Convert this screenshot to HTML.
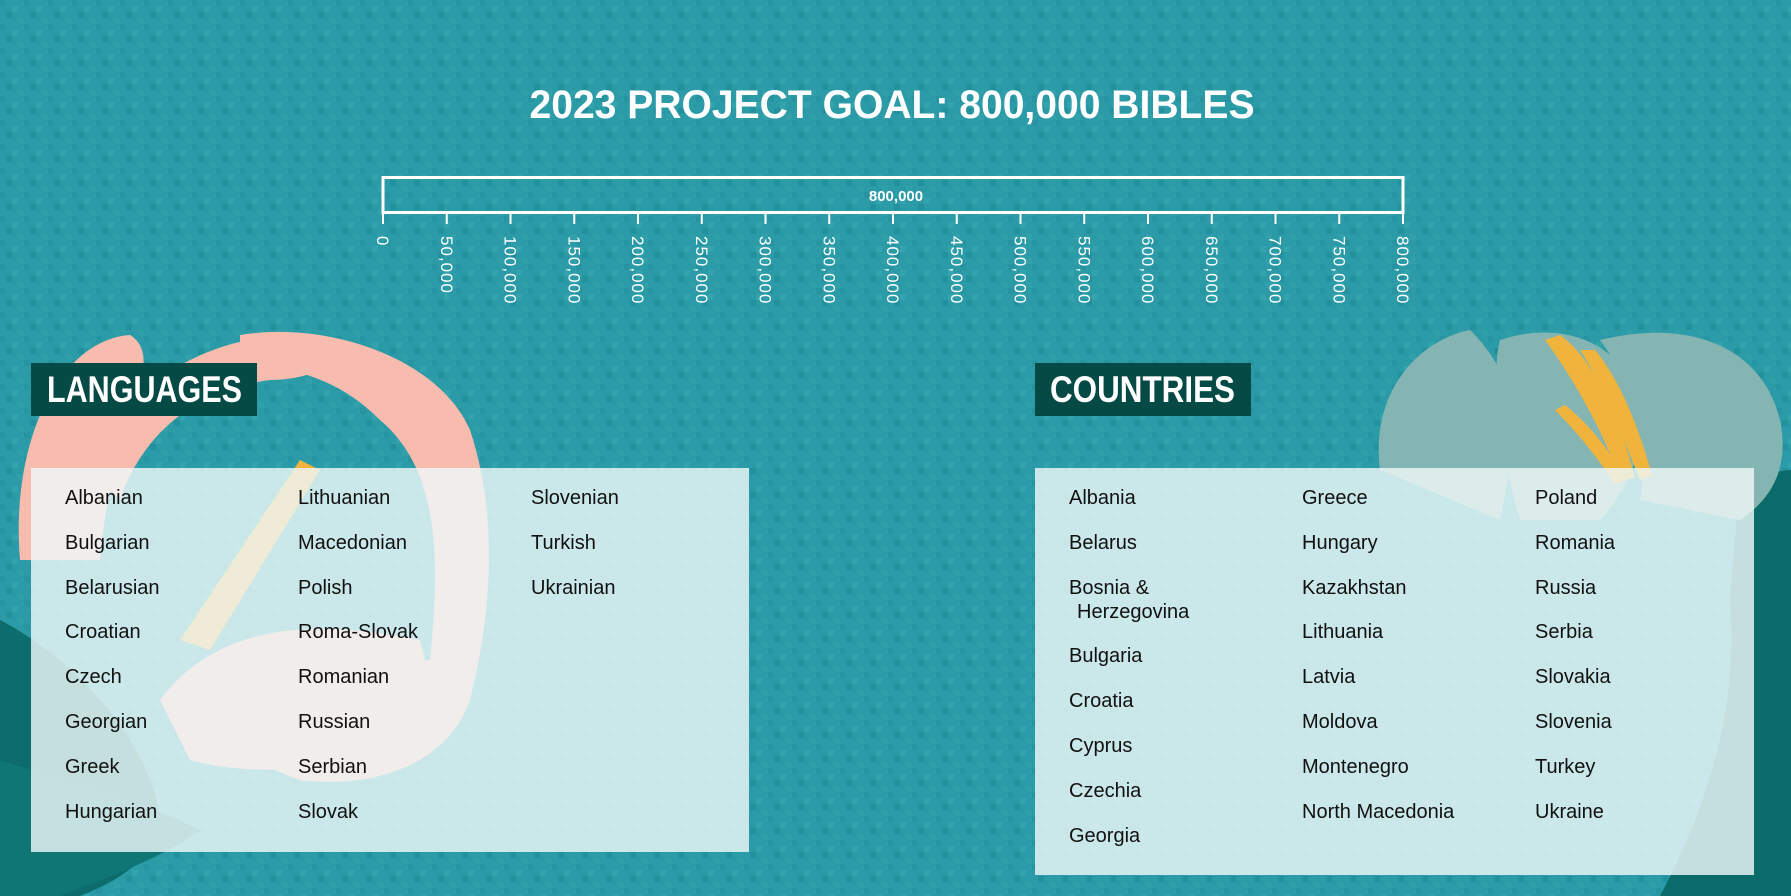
<!DOCTYPE html>
<html><head><meta charset="utf-8"><style>
html,body{margin:0;padding:0;width:1791px;height:896px;overflow:hidden;background:#2b9ba7}
svg{display:block}
text{font-family:"Liberation Sans",sans-serif}
</style></head><body>
<svg width="1791" height="896" viewBox="0 0 1791 896" xmlns="http://www.w3.org/2000/svg">
<defs>
<pattern id="noise" width="24" height="24" patternUnits="userSpaceOnUse">
<rect width="24" height="24" fill="#2b9ba7"/>
<rect x="0" y="0" width="6" height="6" fill="#2794a1"/>
<rect x="12" y="6" width="6" height="6" fill="#33a3ae"/>
<rect x="6" y="12" width="6" height="6" fill="#23909d"/>
<rect x="18" y="18" width="6" height="6" fill="#31a0ab"/>
</pattern>
</defs>
<rect width="1791" height="896" fill="url(#noise)"/>

<!-- left flower -->
<g>
<path d="M0 896 L0 620 C40 640 120 700 150 780 C180 850 120 880 80 896 Z" fill="#0d6d6c"/>
<path d="M20 560 C10 440 60 340 130 335 C170 360 110 430 100 560 Z" fill="#f7bcad"/>
<path d="M90 470 C120 380 220 330 310 335 C360 345 330 380 270 380 C190 390 140 440 120 500 Z" fill="#f7bcad"/>
<path d="M240 335 C330 320 440 360 470 430 C500 520 490 620 470 700 C450 760 380 790 300 780 C240 760 210 720 220 680 L430 660 C440 560 440 470 380 420 C340 380 300 370 240 360 Z" fill="#f7bcad"/>
<path d="M160 700 C220 620 320 620 420 640 L440 720 C380 770 260 780 190 760 Z" fill="#f7bcad"/>
<path d="M180 640 L300 460 L320 470 L210 650 Z" fill="#f3b33f"/>
<path d="M0 896 L0 760 C60 780 140 800 200 830 C160 860 100 880 60 896 Z" fill="#0f7674"/>
</g>

<!-- right flower -->
<g>
<path d="M1740 480 C1780 470 1791 470 1791 470 L1791 896 L1660 896 C1700 820 1740 720 1730 600 Z" fill="#0b6b6a"/>
<path d="M1380 470 C1370 390 1420 340 1470 330 C1520 380 1520 430 1500 520 Z" fill="#85b5b2"/>
<path d="M1500 340 C1560 320 1620 340 1640 400 C1650 450 1620 500 1600 520 L1520 520 C1500 450 1490 380 1500 340 Z" fill="#85b5b2"/>
<path d="M1600 340 C1680 320 1760 340 1780 420 C1790 470 1770 500 1740 520 L1640 500 C1650 440 1630 380 1600 340 Z" fill="#85b5b2"/>
<path d="M1545 340 C1560 360 1600 420 1620 480 L1635 478 C1620 420 1595 360 1560 335 Z" fill="#f0b43c"/>
<path d="M1580 350 C1600 380 1620 430 1640 480 L1652 476 C1640 430 1620 380 1595 350 Z" fill="#f0b43c"/>
<path d="M1555 410 C1575 430 1600 460 1615 485 L1625 480 C1610 450 1590 425 1565 405 Z" fill="#f0b43c"/>
</g>

<!-- title -->
<text x="892" y="118" text-anchor="middle" font-size="40" font-weight="bold" fill="#fff" textLength="725" lengthAdjust="spacingAndGlyphs">2023 PROJECT GOAL: 800,000 BIBLES</text>

<!-- bar -->
<rect x="383" y="177.5" width="1020" height="35" fill="none" stroke="#fff" stroke-width="3"/>
<text x="896" y="201" text-anchor="middle" font-size="15" font-weight="bold" fill="#fff">800,000</text>
<g stroke="#fff" stroke-width="2">
<line x1="383" y1="213" x2="383" y2="224"/><line x1="446.75" y1="213" x2="446.75" y2="224"/><line x1="510.5" y1="213" x2="510.5" y2="224"/><line x1="574.25" y1="213" x2="574.25" y2="224"/><line x1="638" y1="213" x2="638" y2="224"/><line x1="701.75" y1="213" x2="701.75" y2="224"/><line x1="765.5" y1="213" x2="765.5" y2="224"/><line x1="829.25" y1="213" x2="829.25" y2="224"/><line x1="893" y1="213" x2="893" y2="224"/><line x1="956.75" y1="213" x2="956.75" y2="224"/><line x1="1020.5" y1="213" x2="1020.5" y2="224"/><line x1="1084.25" y1="213" x2="1084.25" y2="224"/><line x1="1148" y1="213" x2="1148" y2="224"/><line x1="1211.75" y1="213" x2="1211.75" y2="224"/><line x1="1275.5" y1="213" x2="1275.5" y2="224"/><line x1="1339.25" y1="213" x2="1339.25" y2="224"/><line x1="1403" y1="213" x2="1403" y2="224"/>
</g>
<g font-size="17" fill="#fff" letter-spacing="1">
<text transform="translate(377,236) rotate(90)">0</text>
<text transform="translate(440.75,236) rotate(90)">50,000</text>
<text transform="translate(504.5,236) rotate(90)">100,000</text>
<text transform="translate(568.25,236) rotate(90)">150,000</text>
<text transform="translate(632,236) rotate(90)">200,000</text>
<text transform="translate(695.75,236) rotate(90)">250,000</text>
<text transform="translate(759.5,236) rotate(90)">300,000</text>
<text transform="translate(823.25,236) rotate(90)">350,000</text>
<text transform="translate(887,236) rotate(90)">400,000</text>
<text transform="translate(950.75,236) rotate(90)">450,000</text>
<text transform="translate(1014.5,236) rotate(90)">500,000</text>
<text transform="translate(1078.25,236) rotate(90)">550,000</text>
<text transform="translate(1142,236) rotate(90)">600,000</text>
<text transform="translate(1205.75,236) rotate(90)">650,000</text>
<text transform="translate(1269.5,236) rotate(90)">700,000</text>
<text transform="translate(1333.25,236) rotate(90)">750,000</text>
<text transform="translate(1397,236) rotate(90)">800,000</text>
</g>

<!-- headers -->
<rect x="31" y="363" width="226" height="53" fill="#054a45"/>
<text x="47" y="402" font-size="37" font-weight="bold" fill="#fff" textLength="195" lengthAdjust="spacingAndGlyphs">LANGUAGES</text>
<rect x="1035" y="363" width="216" height="53" fill="#054a45"/>
<text x="1050" y="402" font-size="37" font-weight="bold" fill="#fff" textLength="185" lengthAdjust="spacingAndGlyphs">COUNTRIES</text>

<!-- panels -->
<rect x="31" y="468" width="718" height="384" fill="#eef8f8" fill-opacity="0.82"/>
<rect x="1035" y="468" width="719" height="407" fill="#eef8f8" fill-opacity="0.82"/>

<g font-size="20" fill="#111">
<text x="65" y="504">Albanian</text><text x="65" y="549">Bulgarian</text><text x="65" y="594">Belarusian</text><text x="65" y="638">Croatian</text><text x="65" y="683">Czech</text><text x="65" y="728">Georgian</text><text x="65" y="773">Greek</text><text x="65" y="818">Hungarian</text>
<text x="298" y="504">Lithuanian</text><text x="298" y="549">Macedonian</text><text x="298" y="594">Polish</text><text x="298" y="638">Roma-Slovak</text><text x="298" y="683">Romanian</text><text x="298" y="728">Russian</text><text x="298" y="773">Serbian</text><text x="298" y="818">Slovak</text>
<text x="531" y="504">Slovenian</text><text x="531" y="549">Turkish</text><text x="531" y="594">Ukrainian</text>

<text x="1069" y="504">Albania</text><text x="1069" y="549">Belarus</text><text x="1069" y="594">Bosnia &amp;</text><text x="1077" y="618">Herzegovina</text><text x="1069" y="662">Bulgaria</text><text x="1069" y="707">Croatia</text><text x="1069" y="752">Cyprus</text><text x="1069" y="797">Czechia</text><text x="1069" y="842">Georgia</text>
<text x="1302" y="504">Greece</text><text x="1302" y="549">Hungary</text><text x="1302" y="594">Kazakhstan</text><text x="1302" y="638">Lithuania</text><text x="1302" y="683">Latvia</text><text x="1302" y="728">Moldova</text><text x="1302" y="773">Montenegro</text><text x="1302" y="818">North Macedonia</text>
<text x="1535" y="504">Poland</text><text x="1535" y="549">Romania</text><text x="1535" y="594">Russia</text><text x="1535" y="638">Serbia</text><text x="1535" y="683">Slovakia</text><text x="1535" y="728">Slovenia</text><text x="1535" y="773">Turkey</text><text x="1535" y="818">Ukraine</text>
</g>
</svg>
</body></html>
